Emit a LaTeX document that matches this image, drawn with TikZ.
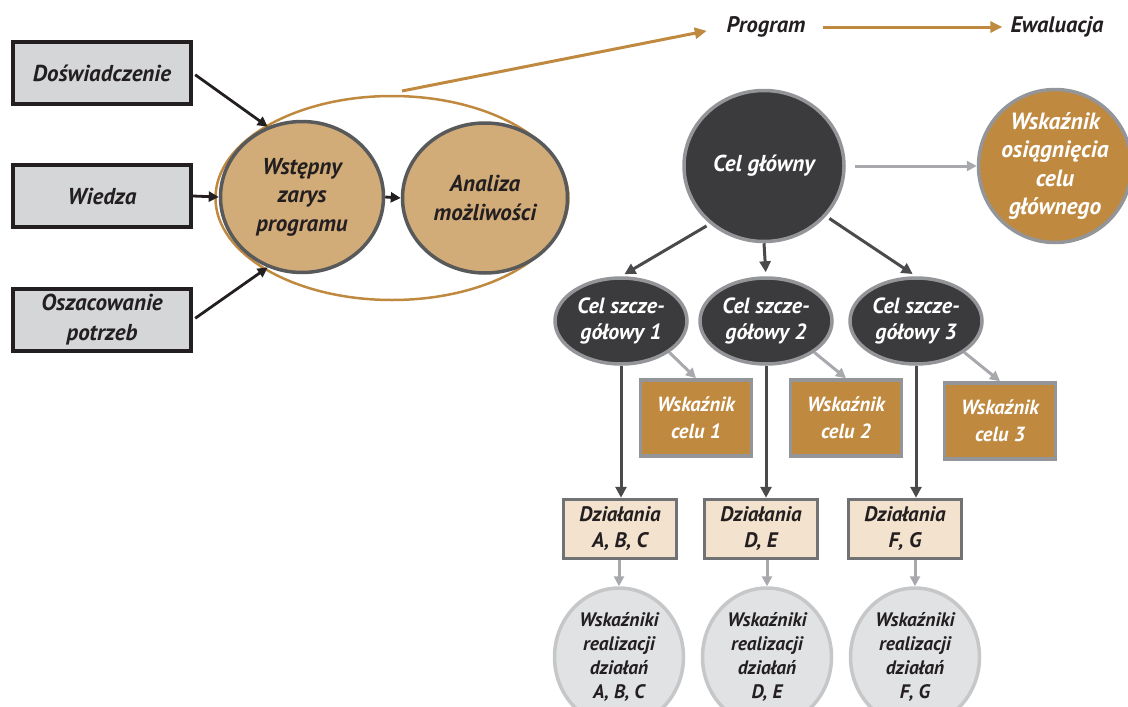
\documentclass[tikz,border=0pt]{standalone}
\usepackage{fontspec}
\setmainfont{PT Sans}
\usetikzlibrary{shapes.geometric,arrows.meta}

\definecolor{ink}{HTML}{231F20}
\definecolor{boxgray}{HTML}{D5D6D8}
\definecolor{tanfill}{HTML}{D2AC78}
\definecolor{gold}{HTML}{BF8A40}
\definecolor{rimdark}{HTML}{58595B}
\definecolor{rimgray}{HTML}{939598}
\definecolor{coal}{HTML}{3B3A3C}
\definecolor{beige}{HTML}{F2E2CE}
\definecolor{pale}{HTML}{E1E2E4}
\definecolor{rimpale}{HTML}{C6C7C9}
\definecolor{arrgray}{HTML}{A7A9AC}
\definecolor{arrdark}{HTML}{4A494B}

\newcommand\figfont[2]{\fontsize{#1}{#2}\selectfont\bfseries\itshape}

\tikzset{
  source/.style={draw=ink,fill=boxgray,line width=3.5pt,minimum width=178pt,minimum height=62pt,text=ink,font=\figfont{23}{30}},
  bubble/.style={ellipse,draw=rimdark,fill=tanfill,line width=3.5pt,text=ink,font=\figfont{23}{28.5}},
  goal/.style={ellipse,draw=rimgray,fill=coal,line width=3.5pt,text=white},
  measure/.style={draw=rimgray,fill=gold,line width=3.5pt,minimum width=111pt,minimum height=76pt,text=white,font=\figfont{20.5}{27}},
  task/.style={draw=rimdark!85,fill=beige,line width=3.5pt,minimum width=113pt,minimum height=59pt,text=ink,font=\figfont{21}{26}},
  result/.style={ellipse,draw=rimpale,fill=pale,line width=3.5pt,minimum width=129pt,minimum height=138pt,text=ink,font=\figfont{19.5}{24}},
  label/.style={inner sep=0pt,text=ink,font=\figfont{22.5}{24}},
  blackarr/.style={-{Triangle[length=10pt,width=10pt]},line width=2.8pt,draw=ink},
  darkarr/.style={-{Triangle[length=11pt,width=11pt]},line width=3pt,draw=arrdark},
  grayarr/.style={-{Triangle[length=10pt,width=10pt]},line width=3pt,draw=arrgray},
  goldarr/.style={-{Triangle[length=12pt,width=11pt]},line width=3pt,draw=gold}
}

\begin{document}
\begin{tikzpicture}[x=1pt,y=-1pt]
\useasboundingbox (0,0) rectangle (1128,707);
\begin{scope}[every node/.append style={align=center,inner sep=0pt}]
    \node[source] (dosw) at (102,73) {Doświadczenie};
    \node[source] (wiedza) at (102,196) {Wiedza};
    \node[source] (oszac) at (102,320) {Oszacowanie\\potrzeb};
    \node[ellipse,draw=gold,line width=2.5pt,minimum width=353pt,minimum height=204pt] (outer) at (392,198) {};
    \node[bubble,minimum width=163pt,minimum height=151pt] (zarys) at (302,197) {Wstępny\\zarys\\programu};
    \node[bubble,minimum width=165pt,minimum height=150pt] (analiza) at (485,198) {Analiza\\możliwości};
    \node[label] (prog) at (766,27) {Program};
    \node[label] (ewal) at (1057,27) {Ewaluacja};
    \node[goal,minimum width=160pt,minimum height=151pt,font=\figfont{23}{28}] (glowny) at (764,166) {Cel główny};
    \node[ellipse,draw=rimgray,fill=gold,line width=3.5pt,minimum width=153pt,minimum height=153pt,text=white,font=\figfont{23.5}{28.5}] (wsk) at (1055,166) {Wskaźnik\\osiągnięcia\\celu\\głównego};
    \node[goal,minimum width=132pt,minimum height=86pt,font=\figfont{22}{26}] (sz1) at (621,321) {Cel szcze-\\gółowy 1};
    \node[goal,minimum width=132pt,minimum height=86pt,font=\figfont{22}{26}] (sz2) at (766,321) {Cel szcze-\\gółowy 2};
    \node[goal,minimum width=132pt,minimum height=86pt,font=\figfont{22}{26}] (sz3) at (916,321) {Cel szcze-\\gółowy 3};
    \node[measure] (wc1) at (696,418) {Wskaźnik\\celu 1};
    \node[measure] (wc2) at (846,418) {Wskaźnik\\celu 2};
    \node[measure] (wc3) at (1000,421) {Wskaźnik\\celu 3};
    \node[task] (dz1) at (620,529) {Działania\\A, B, C};
    \node[task] (dz2) at (761,529) {Działania\\D, E};
    \node[task] (dz3) at (905,529) {Działania\\F, G};
    \node[result] (wr1) at (619,657) {Wskaźniki\\realizacji\\działań\\A, B, C};
    \node[result] (wr2) at (767,657) {Wskaźniki\\realizacji\\działań\\D, E};
    \node[result] (wr3) at (915,657) {Wskaźniki\\realizacji\\działań\\F, G};
    \coordinate (start) at (402,91);
\end{scope}
\begin{scope}[]
\draw[blackarr,shorten <=3pt] (dosw.east) -- (zarys.116);
\draw[blackarr] (wiedza.east) -- (zarys.west);
\draw[blackarr,shorten <=3pt] (oszac.east) -- (zarys.244);
\draw[blackarr] (zarys.east) -- (analiza.west);
\draw[goldarr,shorten >=20pt] (start) -- (prog.west);
\draw[goldarr,shorten <=17pt,shorten >=8pt] (prog.east) -- (ewal.west);
\draw[grayarr,shorten <=9pt] (glowny.east) -- (wsk.west);
\draw[darkarr,shorten <=4pt,shorten >=4pt] (glowny.227) -- (sz1.north);
\draw[darkarr,shorten >=4pt] (glowny.south) -- (sz2.north);
\draw[darkarr,shorten <=4pt,shorten >=4pt] (glowny.-39) -- (sz3.north);
\draw[grayarr] (sz1.-33) -- (wc1.north);
\draw[grayarr] (sz2.-33) -- (wc2.north);
\draw[grayarr] (sz3.-33) -- (wc3.north);
\draw[darkarr] (sz1.south) -- (sz1.south |- dz1.north);
\draw[darkarr] (sz2.south) -- (sz2.south |- dz2.north);
\draw[darkarr] (sz3.south) -- (sz3.south |- dz3.north);
\draw[grayarr] (wr1.north |- dz1.south) -- (wr1.north);
\draw[grayarr] (wr2.north |- dz2.south) -- (wr2.north);
\draw[grayarr] (wr3.north |- dz3.south) -- (wr3.north);
\end{scope}
\end{tikzpicture}
\end{document}
